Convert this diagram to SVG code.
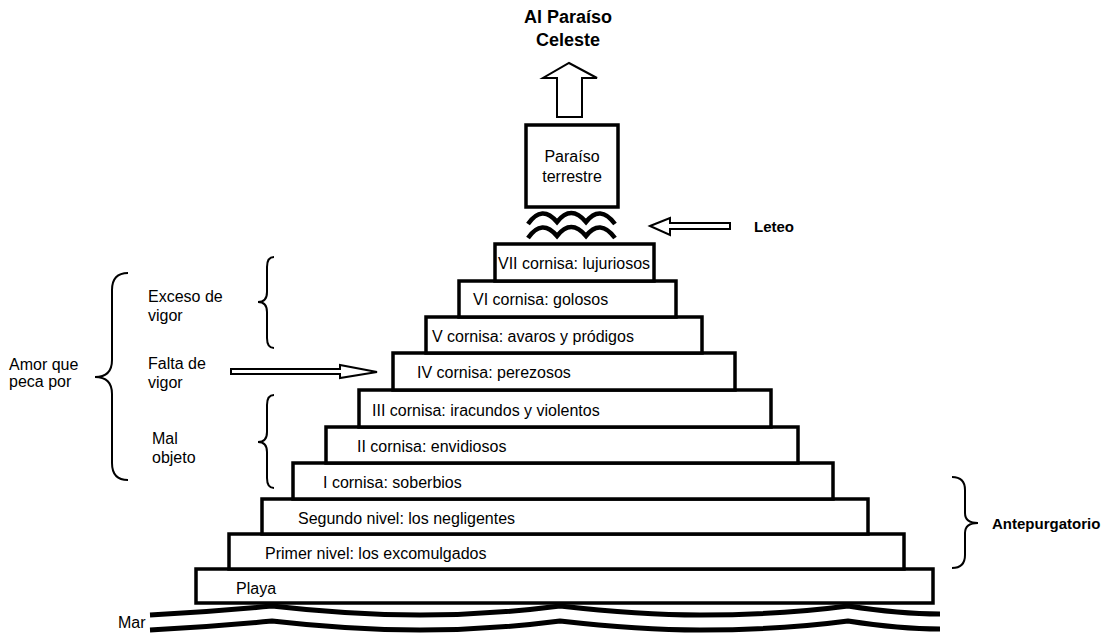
<svg xmlns="http://www.w3.org/2000/svg" width="1108" height="641" viewBox="0 0 1108 641">
<style>
.step{fill:#fff;stroke:#000;stroke-width:3.5}
.t{font-family:"Liberation Sans",Arial,sans-serif;font-size:16px;fill:#000}
.b{font-family:"Liberation Sans",Arial,sans-serif;font-size:15px;font-weight:bold;fill:#000}
.brace{fill:none;stroke:#000;stroke-width:2}
.arrow{fill:#fff;stroke:#000;stroke-width:2;stroke-linejoin:miter}
.wave{fill:none;stroke:#000;stroke-width:4.5}
.sea{fill:none;stroke:#000;stroke-width:5}
</style>
<rect width="1108" height="641" fill="#fff"/>
<g id="title"><text class="b" x="568" y="23" text-anchor="middle" style="font-size:18px">Al Paraíso</text><text class="b" x="568" y="46" text-anchor="middle" style="font-size:18px">Celeste</text></g>
<g id="playa"><rect class="step" x="196" y="569" width="737" height="34"/><text class="t" x="236" y="594">Playa</text></g>
<g id="primer"><rect class="step" x="229" y="534" width="675" height="35"/><text class="t" x="265" y="559">Primer nivel: los excomulgados</text></g>
<g id="segundo"><rect class="step" x="262" y="499" width="606" height="35"/><text class="t" x="298" y="524">Segundo nivel: los negligentes</text></g>
<g id="c1"><rect class="step" x="293" y="463" width="540" height="36"/><text class="t" x="323" y="488">I cornisa: soberbios</text></g>
<g id="c2"><rect class="step" x="326" y="427" width="472" height="36"/><text class="t" x="357" y="452">II cornisa: envidiosos</text></g>
<g id="c3"><rect class="step" x="359" y="390" width="412" height="37"/><text class="t" x="372" y="416">III cornisa: iracundos y violentos</text></g>
<g id="c4"><rect class="step" x="393" y="353" width="342" height="37"/><text class="t" x="417" y="378">IV cornisa: perezosos</text></g>
<g id="c5"><rect class="step" x="426" y="317" width="276" height="36"/><text class="t" x="432" y="342">V cornisa: avaros y pródigos</text></g>
<g id="c6"><rect class="step" x="459" y="281" width="217" height="36"/><text class="t" x="473" y="305">VI cornisa: golosos</text></g>
<g id="c7"><rect class="step" x="495" y="244" width="159" height="37"/><text class="t" x="498" y="269">VII cornisa: lujuriosos</text></g>
<g id="paraiso"><rect class="step" x="526" y="125" width="92" height="82"/><text class="t" x="572" y="162" text-anchor="middle">Paraíso</text><text class="t" x="572" y="182" text-anchor="middle">terrestre</text></g>
<g id="leteo-waves">
<path class="wave" d="M528,224 Q542,204 557,222 Q571,204 586,222 Q600,204 615,224"/>
<path class="wave" d="M528,238 Q542,218 557,236 Q571,218 586,236 Q600,218 615,238"/>
</g>
<g id="leteo"><text class="b" x="754" y="232">Leteo</text></g>
<g id="mar">
<text class="t" x="118" y="628">Mar</text>
<path class="sea" d="M150,615 Q210,612 272,606 Q350,615 420,615 Q490,615 560,606 Q640,615 700,615 Q780,615 848,606 Q900,614 940,614"/>
<path class="sea" d="M150,630 Q210,627 272,621 Q350,630 420,630 Q490,630 560,621 Q640,630 700,630 Q780,630 848,621 Q900,629 940,629"/>
</g>
<g id="labels">
<text class="t" x="9" y="370">Amor que</text><text class="t" x="9" y="387">peca por</text>
<text class="t" x="148" y="302">Exceso de</text><text class="t" x="148" y="321">vigor</text>
<text class="t" x="148" y="369">Falta de</text><text class="t" x="148" y="388">vigor</text>
<text class="t" x="152" y="444">Mal</text><text class="t" x="152" y="463">objeto</text>
<text class="b" x="992" y="529">Antepurgatorio</text>
</g>
<g id="connectors">
<path class="brace" d="M128,273 Q112,273 112,290 L112,360 Q112,377 95,377 Q112,377 112,394 L112,463 Q112,480 128,480"/>
<path class="brace" d="M274,257 Q267,257 267,267 L267,292 Q267,302 258,302 Q267,302 267,312 L267,338 Q267,348 274,348"/>
<path class="brace" d="M274,395 Q267,395 267,405 L267,432 Q267,442 258,442 Q267,442 267,452 L267,478 Q267,488 274,488"/>
<path class="brace" d="M952,477 Q965,477 965,490 L965,513 Q965,523 978,523 Q965,523 965,533 L965,555 Q965,568 952,568"/>
<polygon class="arrow" points="569,63 597,78 582,78 582,117 557,117 557,78 543,78"/>
<polygon class="arrow" points="650,226 670,218 670,223 730,223 730,229 670,229 670,235"/>
<polygon class="arrow" stroke-width="1.5" points="231,369 340,369 340,365 377,372 340,378 340,374 231,374"/>
</g>
</svg>
